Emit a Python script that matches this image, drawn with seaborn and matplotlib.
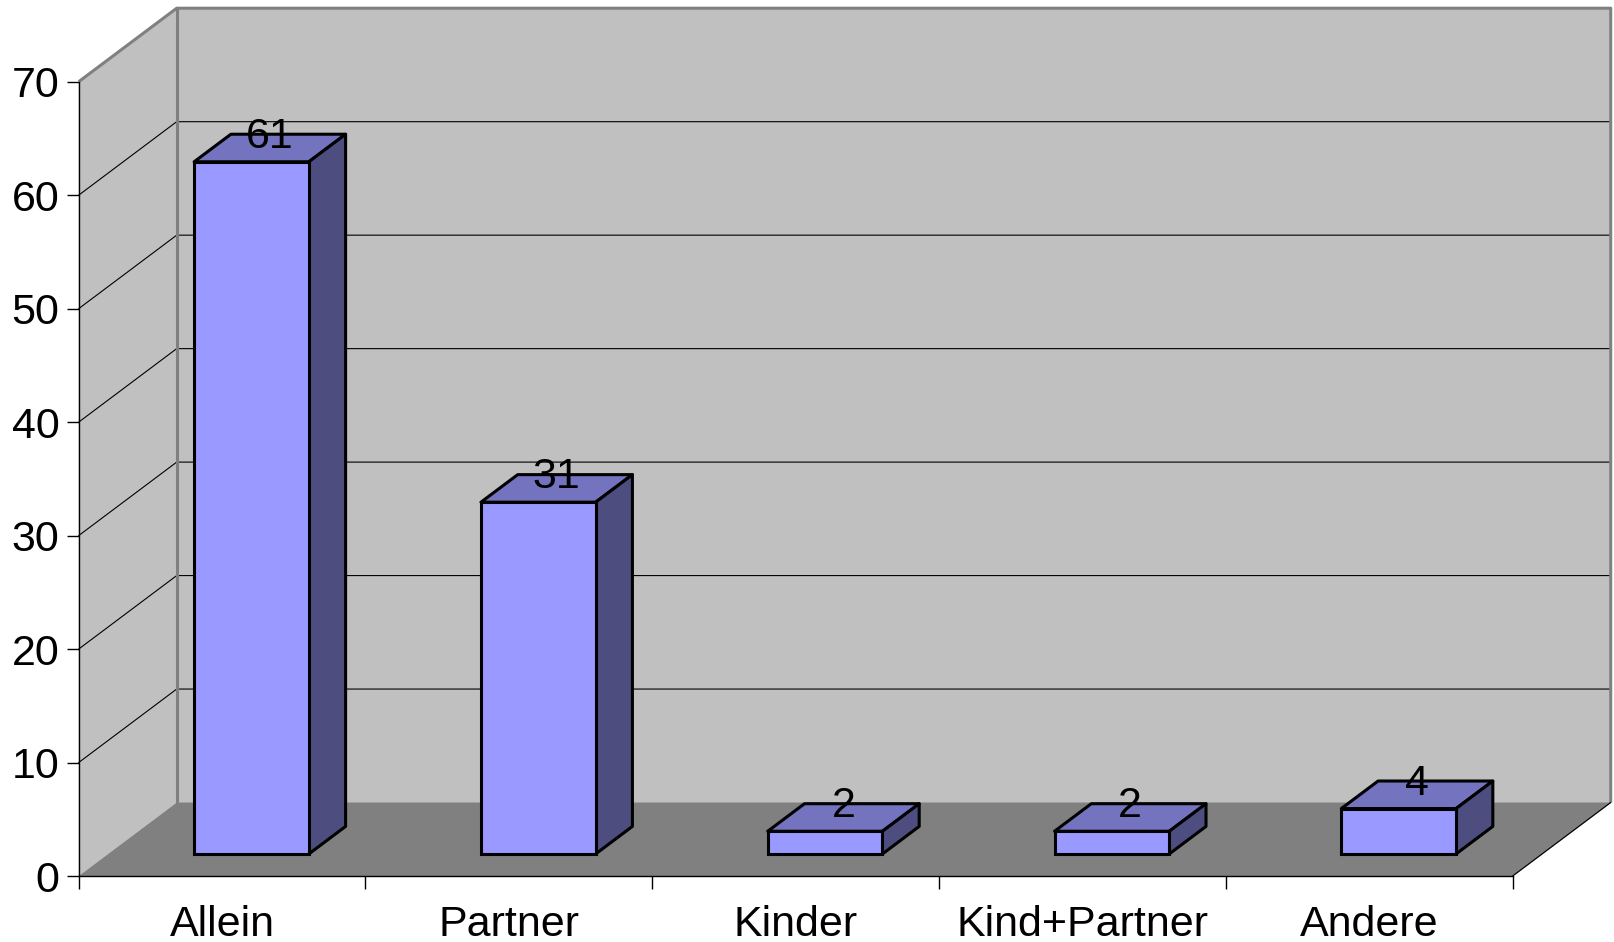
import matplotlib
matplotlib.use("Agg")
import matplotlib.pyplot as plt
from matplotlib.patches import Polygon
import seaborn as sns

# Data
categories = ["Allein", "Partner", "Kinder", "Kind+Partner", "Andere"]
values = [61, 31, 2, 2, 4]
y_ticks = [0, 10, 20, 30, 40, 50, 60, 70]

# Colours
WALL = "#C0C0C0"
FLOOR = "#808080"
BORDER = "#808080"
FRONT = "#9999FF"
TOP = "#7373BF"
SIDE = "#4D4D80"

sns.set_theme(style="white")
plt.rcParams["font.family"] = ["Liberation Sans", "DejaVu Sans"]

fig = plt.figure(figsize=(16.14, 9.42), dpi=100)
ax = fig.add_axes([0.04876, 0.07006, 0.88848, 0.84321])
ax.set_facecolor("none")

YMAX = 70
# oblique depth offset of the chart box, in data units (x: categories, y: values)
DX, DY = 0.3417, 6.476
# bars occupy this slice of the depth
F0, F1 = 0.30, 0.675
n = len(categories)
x0, x1 = -0.5, n - 0.5
EDGE_LW = 2.2
FS = 31

# left wall, back wall and floor
ax.add_patch(Polygon([(x0, 0), (x0, YMAX), (x0 + DX, YMAX + DY), (x0 + DX, DY)],
                     closed=True, facecolor=WALL, edgecolor="none", clip_on=False, zorder=0))
ax.add_patch(Polygon([(x0 + DX, DY), (x0 + DX, YMAX + DY), (x1 + DX, YMAX + DY), (x1 + DX, DY)],
                     closed=True, facecolor=WALL, edgecolor="none", clip_on=False, zorder=0))
ax.add_patch(Polygon([(x0, 0), (x1, 0), (x1 + DX, DY), (x0 + DX, DY)],
                     closed=True, facecolor=FLOOR, edgecolor="none", clip_on=False, zorder=0.5))

# gridlines on both walls
for v in y_ticks[1:-1]:
    ax.plot([x0, x0 + DX, x1 + DX], [v, v + DY, v + DY], color="black", lw=0.8,
            clip_on=False, zorder=1)

# wall borders
ax.plot([x0, x0 + DX, x1 + DX, x1 + DX], [YMAX, YMAX + DY, YMAX + DY, DY],
        color=BORDER, lw=2.2, clip_on=False, zorder=1.2, solid_capstyle="butt")
ax.plot([x0 + DX, x0 + DX], [DY, YMAX + DY], color=BORDER, lw=2.2, clip_on=False, zorder=1.2)
# floor right edge
ax.plot([x1, x1 + DX], [0, DY], color="black", lw=0.9, clip_on=False, zorder=1.2)

# front faces of the bars
sns.barplot(x=categories, y=values, color=FRONT, saturation=1, width=0.4,
            edgecolor="black", linewidth=EDGE_LW, errorbar=None, ax=ax, zorder=3)

ddx, ddy = (F1 - F0) * DX, (F1 - F0) * DY
for patch, v in zip(ax.patches[-n:], values):
    patch.set_x(patch.get_x() + F0 * DX)
    patch.set_y(F0 * DY)
    patch.set_clip_on(False)
    xl = patch.get_x()
    xr = xl + patch.get_width()
    yb = patch.get_y()
    yt = yb + patch.get_height()
    ax.add_patch(Polygon([(xl, yt), (xr, yt), (xr + ddx, yt + ddy), (xl + ddx, yt + ddy)],
                         closed=True, facecolor=TOP, edgecolor="black", lw=EDGE_LW,
                         joinstyle="round", clip_on=False, zorder=2.5))
    ax.add_patch(Polygon([(xr, yb), (xr, yt), (xr + ddx, yt + ddy), (xr + ddx, yb + ddy)],
                         closed=True, facecolor=SIDE, edgecolor="black", lw=EDGE_LW,
                         joinstyle="round", clip_on=False, zorder=2.5))
    ax.text((xl + xr) / 2 + ddx / 2, yt + ddy / 2, f"{v}", ha="center",
            va="baseline", fontsize=FS, color="black", zorder=4, clip_on=False)

# axes
ax.set_xlim(x0, x1)
ax.set_ylim(0, YMAX)
ax.set_yticks(y_ticks)
ax.set_yticklabels([str(t) for t in y_ticks])
ax.set_xticks(range(n))
ax.set_xticklabels(categories)
ax.set_xticks([i - 0.5 for i in range(n + 1)], minor=True)
ax.set_xlabel("")
ax.set_ylabel("")
ax.tick_params(axis="y", which="major", direction="out", length=9, width=1,
               color="black", pad=5, labelsize=FS, labelcolor="black", left=True)
ax.tick_params(axis="x", which="major", length=0, pad=21, labelsize=FS, labelcolor="black")
ax.tick_params(axis="x", which="minor", direction="out", length=9.6, width=1,
               color="black", bottom=True)
for side in ("top", "right"):
    ax.spines[side].set_visible(False)
for side in ("left", "bottom"):
    ax.spines[side].set_visible(True)
    ax.spines[side].set_color("black")
    ax.spines[side].set_linewidth(1.0)
    ax.spines[side].set_zorder(5)
ax.grid(False)

fig.savefig("out.png", dpi=100, facecolor="white")
